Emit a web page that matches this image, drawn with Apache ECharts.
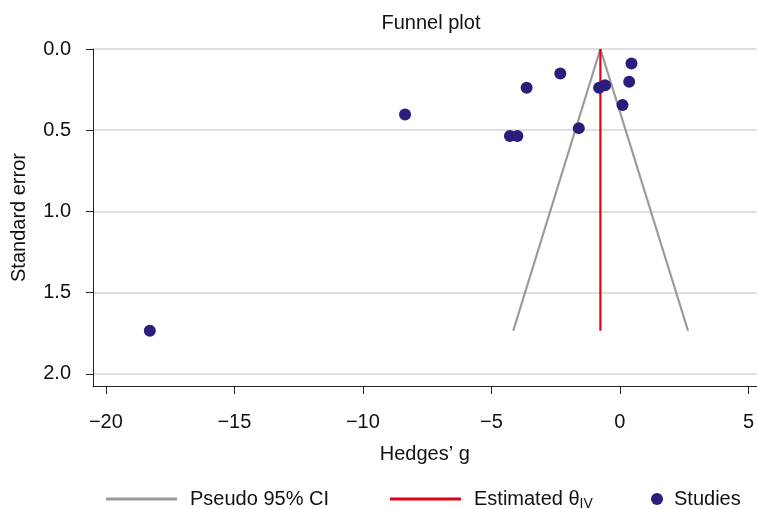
<!DOCTYPE html>
<html>
<head>
<meta charset="utf-8">
<script src="https://cdn.jsdelivr.net/npm/echarts@6/dist/echarts.min.js"></script>
<style>
html,body{margin:0;padding:0;background:#fff;}
#chart{width:757px;height:509px;}
</style>
</head>
<body>
<div id="chart"></div>
<script>
// Study data (Hedges' g, standard error)
const studyG  = [0.45, 0.36, -2.32, -3.63, -0.81, -0.58, 0.10, -8.36, -1.60, -4.28, -3.99, -18.29];
const studySE = [0.089, 0.202, 0.151, 0.239, 0.239, 0.223, 0.344, 0.403, 0.487, 0.536, 0.536, 1.734];
// Pseudo 95% CI funnel
const ciX = [-4.15, -0.76, 2.65];
const ciY = [1.734, 0, 1.734];
// Estimated theta line
const thetaX = [-0.76, -0.76];
const thetaY = [0, 1.734];
// Tick labels
const xTicks = [-20, -15, -10, -5, 0, 5];
const yTicks = [0, 0.5, 1, 1.5, 2];

const FONT = '"Liberation Sans", Arial, sans-serif';
const TXT = '#111';
const FS = 20;

const chart = echarts.init(document.getElementById('chart'), null, {renderer: 'canvas'});
const option = {
  animation: false,
  backgroundColor: '#fff',
  textStyle: {fontFamily: FONT},
  title: {
    text: 'Funnel plot', left: 426, top: 8, textAlign: 'center',
    textStyle: {fontFamily: FONT, fontSize: FS, fontWeight: 'normal', color: TXT}
  },
  grid: {left: 93, right: 0, top: 49, bottom: 123, containLabel: false},
  xAxis: {
    type: 'value', min: -20.5, max: 5.32,
    name: 'Hedges\u2019 g', nameLocation: 'middle', nameGap: 58,
    nameTextStyle: {fontFamily: FONT, fontSize: FS, color: TXT},
    axisLine: {show: true, onZero: false, lineStyle: {color: '#222', width: 1}},
    axisTick: {show: true, length: 8, lineStyle: {color: '#222'}, customValues: xTicks},
    axisLabel: {
      customValues: xTicks, margin: 26, fontFamily: FONT, fontSize: FS, color: TXT,
      formatter: v => (v < 0 ? '\u2212' + Math.abs(v) : String(v))
    },
    splitLine: {show: false}
  },
  yAxis: {
    type: 'value', inverse: true, min: 0, max: 2.074,
    name: 'Standard error', nameLocation: 'middle', nameGap: 64,
    nameTextStyle: {fontFamily: FONT, fontSize: FS, color: TXT},
    axisLine: {show: true, onZero: false, lineStyle: {color: '#222', width: 1}},
    axisTick: {show: true, length: 7, lineStyle: {color: '#222'}, customValues: yTicks},
    axisLabel: {
      customValues: yTicks, margin: 22, fontFamily: FONT, fontSize: FS, color: TXT,
      formatter: v => v.toFixed(1)
    },
    splitLine: {show: true, lineStyle: {color: '#d4d4d4', width: 1.5}}
  },
  legend: [
    {data: [{name: 'Pseudo 95% CI', icon: 'rect'}], left: 101, top: 484, itemWidth: 71, itemHeight: 3,
     textStyle: {fontFamily: FONT, fontSize: FS, color: TXT, padding: [0,0,0,8]}},
    {data: [{name: 'Estimated \u03b8', icon: 'rect'}], left: 385, top: 484, itemWidth: 71, itemHeight: 3,
     formatter: () => 'Estimated \u03b8{sub|IV}',
     textStyle: {fontFamily: FONT, fontSize: FS, color: TXT, padding: [0,0,0,8],
       rich: {sub: {fontFamily: FONT, fontSize: 14, color: TXT, verticalAlign: 'bottom', padding: [10,0,0,0]}}}},
    {data: [{name: 'Studies', icon: 'circle'}], left: 646, top: 484, itemWidth: 12, itemHeight: 12,
     textStyle: {fontFamily: FONT, fontSize: FS, color: TXT, padding: [0,0,0,6]}}
  ],
  series: [
    {
      name: 'Pseudo 95% CI', type: 'line', symbol: 'none',
      data: ciX.map((x, i) => [x, ciY[i]]),
      lineStyle: {color: '#9a9a9a', width: 2.2}, itemStyle: {color: '#9a9a9a'}, z: 2
    },
    {
      name: 'Estimated \u03b8', type: 'line', symbol: 'none',
      data: thetaX.map((x, i) => [x, thetaY[i]]),
      lineStyle: {color: '#e3001b', width: 2.2}, itemStyle: {color: '#e3001b'}, z: 3
    },
    {
      name: 'Studies', type: 'scatter', symbol: 'circle', symbolSize: 12,
      data: studyG.map((g, i) => [g, studySE[i]]),
      itemStyle: {color: '#2a1d7b', opacity: 1}, z: 4
    }
  ]
};
chart.setOption(option);
</script>
</body>
</html>
